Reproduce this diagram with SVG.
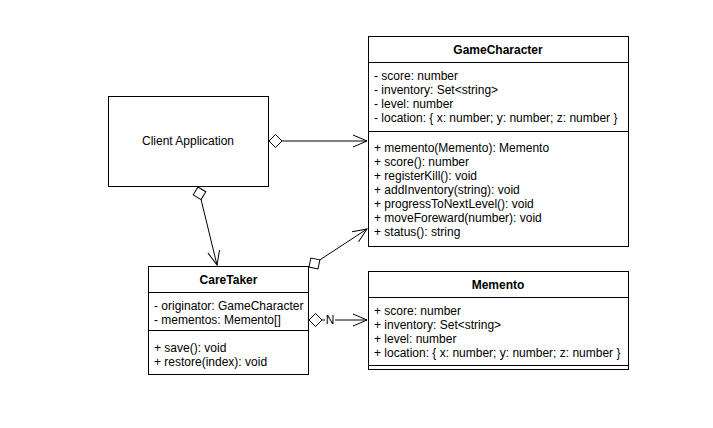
<svg xmlns="http://www.w3.org/2000/svg" width="713" height="428" viewBox="0 0 713 428">
<style>
.box{fill:#fff;stroke:#000;stroke-width:1}
.ln{stroke:#000;stroke-width:1;fill:none}
text{font-family:"Liberation Sans",Arial,sans-serif;font-size:12px;fill:#000}
.t{font-weight:bold;text-anchor:middle}
.c{text-anchor:middle}
</style>
<defs>
<marker id="dia" markerUnits="userSpaceOnUse" orient="auto" markerWidth="16" markerHeight="14" viewBox="-1 -7 16 14" refX="0" refY="0" overflow="visible">
<path d="M0,0 L6.5,-6.5 L13,0 L6.5,6.5 Z" fill="#fff" stroke="#000" stroke-width="1"/>
</marker>
<marker id="arr" markerUnits="userSpaceOnUse" orient="auto" markerWidth="16" markerHeight="14" viewBox="-15 -7 16 14" refX="0" refY="0" overflow="visible">
<path d="M-14,-6 L0,0 L-14,6" fill="none" stroke="#000" stroke-width="1"/>
</marker>
</defs>
<rect width="713" height="428" fill="#fff"/>
<g id="connectors">
<path class="ln" d="M269,141 L367,141" marker-start="url(#dia)" marker-end="url(#arr)"/>
<path class="ln" d="M198,187 L217,265" marker-start="url(#dia)" marker-end="url(#arr)"/>
<path class="ln" d="M309,267 L367,229" marker-start="url(#dia)" marker-end="url(#arr)"/>
<path class="ln" d="M309,320 L367,320" marker-start="url(#dia)" marker-end="url(#arr)"/>
<rect x="325" y="313" width="10" height="13" fill="#fff"/>
<text x="330" y="324" class="c" font-size="11">N</text>
</g>
<g id="client">
<rect class="box" x="108.5" y="96.5" width="160" height="90"/>
<text x="188" y="145" class="c">Client Application</text>
</g>
<g id="gamecharacter">
<rect class="box" x="368.5" y="36.5" width="260" height="210"/>
<path class="ln" d="M368.5,62.5 H628.5 M368.5,131.5 H628.5"/>
<text x="498" y="54" class="t">GameCharacter</text>
<text x="374" y="79.5">- score: number</text>
<text x="374" y="93.5">- inventory: Set&lt;string&gt;</text>
<text x="374" y="107.5">- level: number</text>
<text x="374" y="121.5">- location: { x: number; y: number; z: number }</text>
<text x="374" y="151.5">+ memento(Memento): Memento</text>
<text x="374" y="165.5">+ score(): number</text>
<text x="374" y="179.5">+ registerKill(): void</text>
<text x="374" y="193.5">+ addInventory(string): void</text>
<text x="374" y="207.5">+ progressToNextLevel(): void</text>
<text x="374" y="221.5">+ moveForeward(number): void</text>
<text x="374" y="235.5">+ status(): string</text>
</g>
<g id="caretaker">
<rect class="box" x="148.5" y="266.5" width="160" height="108"/>
<path class="ln" d="M148.5,292.5 H308.5 M148.5,330.5 H308.5"/>
<text x="228.5" y="284" class="t">CareTaker</text>
<text x="154" y="310">- originator: GameCharacter</text>
<text x="154" y="324">- mementos: Memento[]</text>
<text x="154" y="352">+ save(): void</text>
<text x="154" y="366">+ restore(index): void</text>
</g>
<g id="memento">
<rect class="box" x="368.5" y="271.5" width="260" height="98"/>
<path class="ln" d="M368.5,297.5 H628.5 M368.5,365.5 H628.5"/>
<text x="498" y="289" class="t">Memento</text>
<text x="374" y="315">+ score: number</text>
<text x="374" y="329">+ inventory: Set&lt;string&gt;</text>
<text x="374" y="343">+ level: number</text>
<text x="374" y="357">+ location: { x: number; y: number; z: number }</text>
</g>
</svg>
